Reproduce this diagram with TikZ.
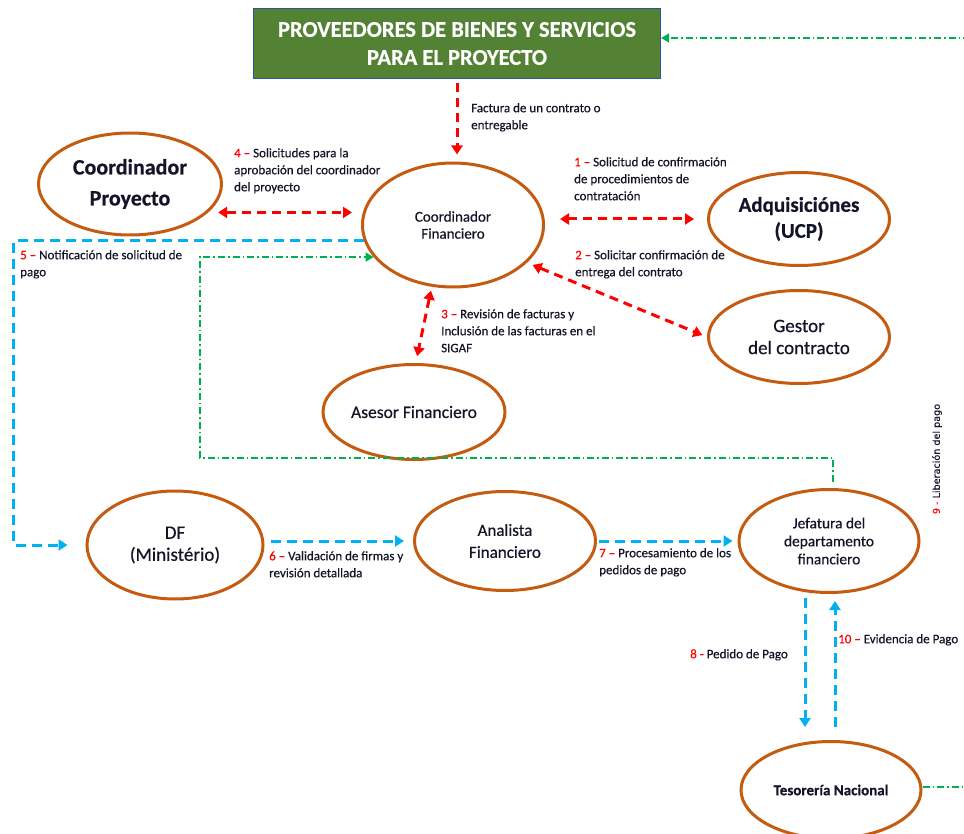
\documentclass[tikz,border=0pt]{standalone}
\usepackage{fontspec}
\setmainfont{Carlito}[FakeBold=0.5]
\newfontfamily\dejavu{DejaVu Sans}[FakeBold=0.3]
\usetikzlibrary{arrows.meta,shapes.geometric}
\definecolor{ell}{HTML}{C55A11}
\definecolor{rd}{HTML}{FF0000}
\definecolor{bl}{HTML}{00B0F0}
\definecolor{gr}{HTML}{00B050}
\definecolor{boxg}{HTML}{548235}
\definecolor{boxb}{HTML}{2F5597}
\definecolor{txt}{HTML}{141428}
\newcommand{\fs}[2]{\fontsize{#1}{#2}\selectfont}
\newcommand{\rn}[1]{\textcolor{rd}{#1}}
\begin{document}
\begin{tikzpicture}[x=1pt,y=-1pt,
  actor/.style={ellipse,draw=ell,line width=3pt,inner sep=0pt,align=center,text=txt},
  lbl/.style={anchor=north west,align=left,inner sep=0pt,text=txt,font=\fs{13}{17}},
  redboth/.style={draw=rd,line width=3pt,dash pattern=on 9pt off 6pt,{Triangle[length=9pt,width=11pt]}-{Triangle[length=9pt,width=11pt]}},
  redone/.style={draw=rd,line width=3pt,dash pattern=on 9pt off 6pt,-{Triangle[length=9pt,width=11pt]}},
  blueone/.style={draw=bl,line width=3pt,dash pattern=on 10pt off 6pt,-{Triangle[length=9pt,width=11pt]}},
  greenone/.style={draw=gr,line width=1.6pt,dash pattern=on 7pt off 3pt on 1.6pt off 3pt,-{Triangle[length=8pt,width=9pt]}}
]
\useasboundingbox (0,0) rectangle (964,834);
\clip (0,0) rectangle (964,834);

% supplier box
\node[draw=boxb,line width=1.2pt,fill=boxg,minimum width=407pt,minimum height=70pt,inner sep=0pt,
      text=white,align=center,font=\bfseries\fs{22.5}{28}] (prov) at (457,43.5)
      {PROVEEDORES DE BIENES Y SERVICIOS\\PARA EL PROYECTO};

% actors
\node[actor,minimum width=183pt,minimum height=102pt,font=\bfseries\fs{22}{31}] (cp) at (130,184) {Coordinador\\Proyecto};
\node[actor,minimum width=181pt,minimum height=124pt,font=\fs{15}{17}] (cf) at (453,225) {Coordinador\\Financiero};
\node[actor,minimum width=181pt,minimum height=93pt,font=\bfseries\fs{21}{26}] (adq) at (799,219) {Adquisiciónes\\(UCP)};
\node[actor,minimum width=181pt,minimum height=93pt,font=\fs{19}{22}] (ges) at (799,337) {Gestor\\del contracto};
\node[actor,minimum width=182pt,minimum height=95pt,font=\fs{17.5}{21}] (ase) at (414,412) {Asesor Financiero};
\node[actor,minimum width=176pt,minimum height=108pt,font=\fs{19}{22}] (df) at (175,545) {DF\\(Ministério)};
\node[actor,minimum width=181pt,minimum height=99pt,font=\fs{17}{22}] (an) at (505,541) {Analista\\Financiero};
\node[actor,minimum width=180pt,minimum height=103pt,font=\fs{15.4}{18}] (jef) at (829,541) {Jefatura del\\departamento\\financiero};
\node[actor,minimum width=180pt,minimum height=97pt,font=\bfseries\fs{15}{18}] (tes) at (831,790) {Tesorería Nacional};

% red connectors
\draw[redone,shorten <=4pt,shorten >=7pt] (prov.south) -- (prov.south |- cf.north);
\draw[redboth,shorten <=10pt,shorten >=9pt] (cp.-20) -- (cp.-20 -| cf.west);
\draw[redboth,shorten <=15pt,shorten >=13pt] (adq.west -| cf.east) -- (adq.west);
\draw[redboth,shorten <=6pt,shorten >=5pt] (cf.-27) -- (ges.west);
\draw[redboth,shorten <=4pt,shorten >=7pt] (cf.-109) -- (ase.88);

% blue connectors
\draw[blueone,shorten >=18pt] (cf.190) -- ++(-350,0) |- (df.west);
\draw[blueone,shorten <=6pt,shorten >=9pt] (df.east |- an.west) -- (an.west);
\draw[blueone,shorten <=2pt,shorten >=5pt] (an.east) -- (jef.west);
\draw[blueone,shorten <=4pt,shorten >=13pt] ([xshift=-24pt]jef.south) -- ([xshift=-26pt]tes.north);
\draw[blueone,shorten <=13pt,shorten >=7pt] ([xshift=4pt]tes.north) -- ([xshift=6pt]jef.south);

% green connectors
\draw[greenone] ([xshift=4pt,yshift=6pt]jef.north) |- ++(-633,-24) |- (cf.202);
\draw[greenone] ([yshift=3pt]tes.east) -- ++(80,0) |- ([yshift=5.5pt]prov.east);

% labels
\node[lbl] (l0) at (471,103) {Factura de un contrato o\\entregable};
\node[lbl] (l4) at (234,148) {\rn{4 –} Solicitudes para la\\aprobación del coordinador\\del proyecto};
\node[lbl] (l1) at (574,157) {\rn{1 –} Solicitud de confirmación\\de procedimientos de\\contratación};
\node[lbl] (l2) at (575,250) {\rn{2 –} Solicitar confirmación de\\entrega del contrato};
\node[lbl] (l5) at (20,250) {\rn{5 –} Notificación de solicitud de\\pago};
\node[lbl] (l3) at (441,309) {\rn{3 –} Revisión de facturas y\\Inclusión de las facturas en el\\SIGAF};
\node[lbl] (l6) at (269,551) {\rn{6 –} Validación de firmas y\\revisión detallada};
\node[lbl] (l7) at (599,548) {\rn{7 –} Procesamiento de los\\pedidos de pago};
\node[lbl,anchor=north east] (l8) at (788,649) {\rn{8 -} Pedido de Pago};
\node[lbl] (l10) at (838,634) {\rn{10 –} Evidencia de Pago};
\node[rotate=90,inner sep=0pt,text=txt,font=\dejavu\fs{9.6}{11}] (l9) at (937,459) {\rn{9 -} Liberación del pago};
\end{tikzpicture}
\end{document}
